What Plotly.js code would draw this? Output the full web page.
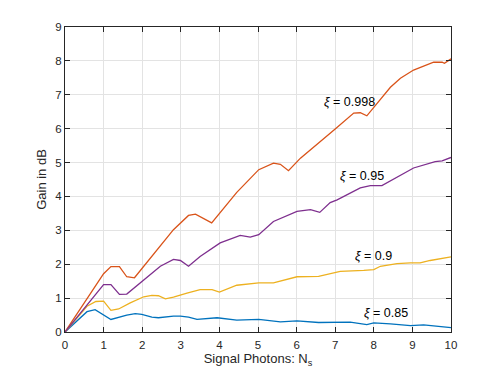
<!DOCTYPE html>
<html>
<head>
<meta charset="utf-8">
<script src="https://cdn.plot.ly/plotly-3.0.1.min.js"></script>
<style>html,body{margin:0;padding:0;background:#fff;}#chart{width:498px;height:374px;}</style>
</head>
<body>
<div id="chart"></div>
<script>
// Series: xi = 0.998
const x998 = [0, 1.0, 1.19, 1.41, 1.6, 1.8, 2.81, 3.2, 3.38, 3.8, 4.45, 5.02, 5.4, 5.58, 5.79, 6.1, 7.0, 7.48, 7.65, 7.82, 8.43, 8.69, 9.03, 9.55, 9.77, 9.83, 10];
const y998 = [0, 1.72, 1.93, 1.93, 1.63, 1.60, 3.02, 3.44, 3.48, 3.22, 4.12, 4.79, 4.98, 4.95, 4.76, 5.13, 5.99, 6.46, 6.47, 6.38, 7.22, 7.49, 7.73, 7.96, 7.96, 7.93, 8.06];
// Series: xi = 0.95
const x95 = [0, 1.0, 1.19, 1.41, 1.6, 2.47, 2.81, 2.99, 3.2, 3.5, 4.02, 4.54, 4.8, 5.02, 5.4, 6.01, 6.36, 6.6, 6.87, 7.05, 7.65, 7.91, 8.21, 9.03, 9.59, 9.77, 10];
const y95 = [0, 1.40, 1.40, 1.11, 1.12, 1.94, 2.14, 2.11, 1.94, 2.23, 2.63, 2.85, 2.80, 2.87, 3.26, 3.56, 3.61, 3.53, 3.82, 3.90, 4.25, 4.32, 4.32, 4.84, 5.03, 5.05, 5.15];
// Series: xi = 0.9
const x90 = [0, 0.57, 0.8, 1.0, 1.19, 1.39, 1.69, 2.04, 2.25, 2.42, 2.6, 2.81, 3.16, 3.5, 3.81, 4.0, 4.45, 5.02, 5.4, 6.01, 6.57, 7.13, 7.74, 8.0, 8.17, 8.6, 8.95, 9.2, 9.46, 10];
const y90 = [0, 0.76, 0.90, 0.91, 0.64, 0.68, 0.86, 1.04, 1.08, 1.07, 0.98, 1.03, 1.15, 1.25, 1.25, 1.18, 1.38, 1.45, 1.45, 1.63, 1.64, 1.79, 1.82, 1.84, 1.94, 2.02, 2.04, 2.04, 2.11, 2.22];
// Series: xi = 0.85
const x85 = [0, 0.57, 0.78, 1.0, 1.19, 1.6, 1.82, 1.99, 2.25, 2.42, 2.81, 2.99, 3.2, 3.42, 3.76, 3.94, 4.45, 5.02, 5.58, 6.01, 6.57, 7.05, 7.39, 7.82, 8.0, 8.43, 8.95, 9.29, 10];
const y85 = [0, 0.60, 0.66, 0.50, 0.37, 0.50, 0.54, 0.52, 0.44, 0.42, 0.47, 0.47, 0.44, 0.37, 0.41, 0.42, 0.35, 0.37, 0.30, 0.33, 0.28, 0.29, 0.29, 0.22, 0.27, 0.24, 0.19, 0.21, 0.13];

const labels = ["<i>ξ</i> = 0.998", "<i>ξ</i> = 0.95", "<i>ξ</i> = 0.9", "<i>ξ</i> = 0.85"];
const labelX = [7.36, 7.69, 7.99, 8.31];
const labelY = [6.8, 4.61, 2.25, 0.57];
const xTicks = [0,1,2,3,4,5,6,7,8,9,10];
const yTicks = [0,1,2,3,4,5,6,7,8,9];

const colors = ['#0072BD', '#D95319', '#EDB120', '#7E2F8E'];
const axisColor = '#262626';

const traces = [
  {x: x85, y: y85, color: colors[0]},
  {x: x998, y: y998, color: colors[1]},
  {x: x90, y: y90, color: colors[2]},
  {x: x95, y: y95, color: colors[3]}
].map(s => ({x: s.x, y: s.y, type: 'scatter', mode: 'lines', line: {color: s.color, width: 1.3}, showlegend: false, hoverinfo: 'skip'}));

const font = {family: 'Liberation Sans, Arial, sans-serif', color: axisColor};

const axisCommon = {
  showline: true, mirror: 'ticks', linecolor: axisColor, linewidth: 1,
  ticks: 'inside', ticklen: 5, tickcolor: axisColor, tickwidth: 1,
  showgrid: true, gridcolor: '#e3e3e3', gridwidth: 1,
  zeroline: false, tickfont: Object.assign({}, font, {size: 11.5})
};

const layout = {
  width: 498, height: 374,
  margin: {l: 65, r: 47, t: 27, b: 41.5},
  paper_bgcolor: '#ffffff', plot_bgcolor: '#ffffff',
  font: font,
  xaxis: Object.assign({}, axisCommon, {
    range: [0, 10], tickvals: xTicks, ticktext: xTicks.map(String), ticklabelstandoff: 2,
    title: {text: 'Signal Photons: N<sub>s</sub>', font: Object.assign({}, font, {size: 13}), standoff: 4}
  }),
  yaxis: Object.assign({}, axisCommon, {
    range: [0, 9], tickvals: yTicks, ticktext: yTicks.map(String),
    title: {text: 'Gain in dB', font: Object.assign({}, font, {size: 13}), standoff: 5}
  }),
  annotations: labels.map((t, i) => ({
    x: labelX[i], y: labelY[i], xref: 'x', yref: 'y', text: t, showarrow: false,
    xanchor: 'center', yanchor: 'middle', font: Object.assign({}, font, {size: 12.5, color: '#000'})
  }))
};

Plotly.newPlot('chart', traces, layout, {displayModeBar: false, staticPlot: true});
</script>
</body>
</html>
